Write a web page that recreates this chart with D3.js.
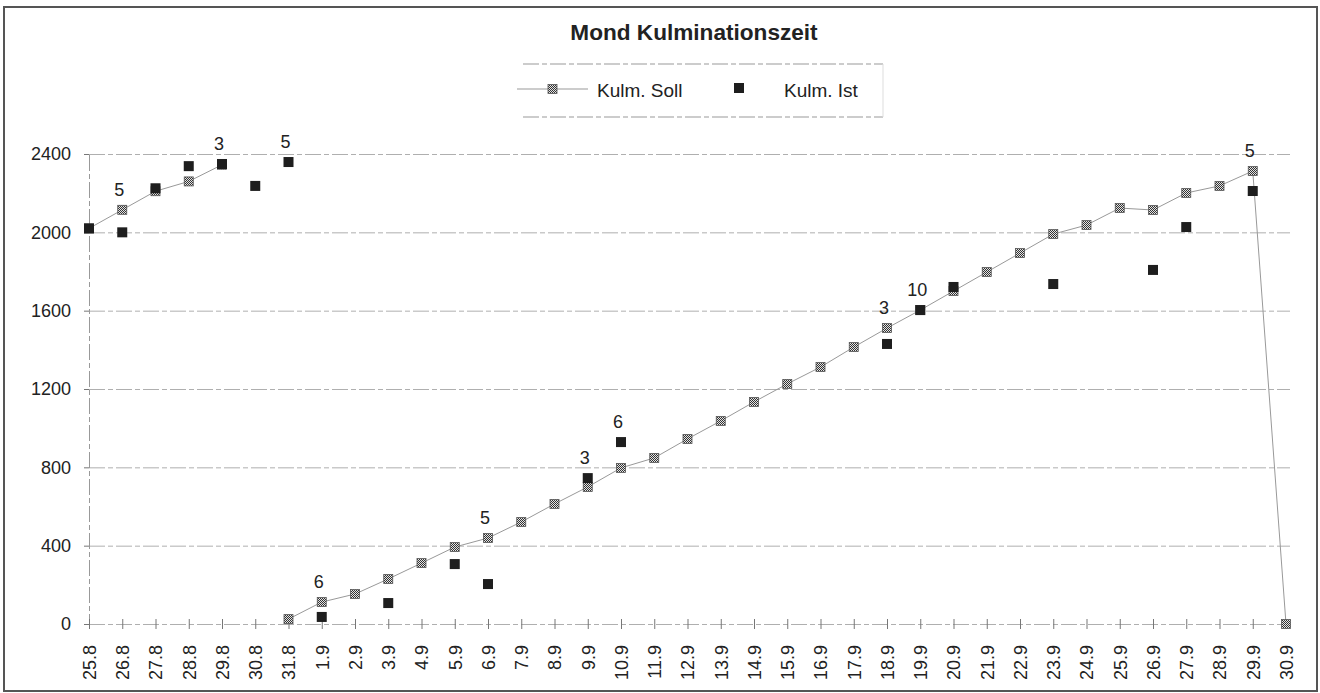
<!DOCTYPE html>
<html>
<head>
<meta charset="utf-8">
<script src="https://cdn.jsdelivr.net/npm/d3@7"></script>
<style>
    body { margin: 0; background: #fff; }
    svg { font-family: "Liberation Sans", Arial, sans-serif; }
    .grid line { stroke: #9a9a9a; stroke-width: 0.8; stroke-dasharray: 16,3,5,3; }
    .tick text { fill: #222; }
</style>
</head>
<body>
<div id="chart"></div>
<script>
const categories = ["25.8", "26.8", "27.8", "28.8", "29.8", "30.8", "31.8",
    "1.9", "2.9", "3.9", "4.9", "5.9", "6.9", "7.9", "8.9", "9.9", "10.9",
    "11.9", "12.9", "13.9", "14.9", "15.9", "16.9", "17.9", "18.9", "19.9", "20.9",
    "21.9", "22.9", "23.9", "24.9", "25.9", "26.9", "27.9", "28.9", "29.9", "30.9"];

// Kulm. Soll (line with hatched markers)
const soll = [2020, 2115, 2210, 2260, 2345, null, 25,
    112, 153, 230, 311, 393, 439, 521, 613, 700, 797,
    848, 945, 1037, 1134, 1226, 1312, 1414, 1511, 1603, 1700,
    1797, 1894, 1991, 2037, 2124, 2114, 2201, 2237, 2313, 0];

// Kulm. Ist (black squares only)
const ist = [2020, 2000, 2225, 2338, 2349, 2237, 2359,
    36, null, 107, null, 306, 204, null, null, 745, 929,
    null, null, null, null, null, null, null, 1430, 1603, 1721,
    null, null, 1736, null, null, 1808, 2027, null, 2211, null];

// small numbers written over some days
const notes = [null, "5", null, null, "3", null, "5",
    "6", null, null, null, null, "5", null, null, "3", "6",
    null, null, null, null, null, null, null, "3", "10", null,
    null, null, null, null, null, null, null, null, "5", null];

const yTicks = [0, 400, 800, 1200, 1600, 2000, 2400];

const W = 1320, H = 693;
const svg = d3.select('#chart').append('svg')
    .attr('width', W)
    .attr('height', H);

const defs = svg.append('defs');
const pat = defs.append('pattern')
    .attr('id', 'checker')
    .attr('width', 2).attr('height', 2)
    .attr('patternUnits', 'userSpaceOnUse');
pat.append('rect').attr('width', 2).attr('height', 2).attr('fill', '#e4e4e4');
pat.append('rect').attr('width', 1).attr('height', 1).attr('fill', '#333');
pat.append('rect').attr('x', 1).attr('y', 1).attr('width', 1).attr('height', 1).attr('fill', '#333');

// outer frame
svg.append('rect')
    .attr('x', 4).attr('y', 7)
    .attr('width', 1313).attr('height', 684)
    .attr('fill', 'none')
    .attr('stroke', '#555')
    .attr('stroke-width', 2);

const x = d3.scalePoint().domain(categories).range([89, 1286]);
const y = d3.scaleLinear().domain([0, 2400]).range([624, 154]);

// horizontal grid
svg.append('g')
    .attr('class', 'grid')
    .attr('transform', 'translate(89,0)')
    .call(d3.axisLeft(y).tickValues(yTicks).tickSize(-1201).tickFormat(''))
    .call(g => g.select('.domain').remove());

// y axis
const yAxis = svg.append('g')
    .attr('transform', 'translate(89,0)')
    .call(d3.axisLeft(y).tickValues(yTicks).tickSize(5).tickPadding(13).tickFormat(d3.format('d')));
yAxis.select('.domain').attr('stroke', '#999').attr('stroke-dasharray', '16,3,5,3');
yAxis.selectAll('.tick line').attr('stroke', '#777');
yAxis.selectAll('.tick text').attr('font-size', 18);

// x axis with crossing ticks
const xAxis = svg.append('g')
    .attr('transform', `translate(0,${y(0)})`)
    .call(d3.axisBottom(x).tickSize(5).tickPadding(10));
xAxis.select('.domain').remove();
xAxis.selectAll('.tick line').attr('y1', -5).attr('stroke', '#777');
xAxis.selectAll('.tick text')
    .attr('font-size', 18)
    .attr('transform', 'rotate(-90)')
    .attr('text-anchor', 'end')
    .attr('x', -21)
    .attr('y', 0)
    .attr('dy', '0.35em');

// Soll line
const idx = categories.map((c, i) => i);
const line = d3.line()
    .defined(i => soll[i] !== null)
    .x(i => x(categories[i]))
    .y(i => y(soll[i]));
svg.append('path')
    .datum(idx)
    .attr('fill', 'none')
    .attr('stroke', '#999')
    .attr('stroke-width', 1)
    .attr('d', line);

svg.append('g')
    .selectAll('rect')
    .data(idx.filter(i => soll[i] !== null))
    .enter().append('rect')
    .attr('x', i => x(categories[i]) - 4.5)
    .attr('y', i => y(soll[i]) - 4.5)
    .attr('width', 9).attr('height', 9)
    .attr('fill', 'url(#checker)')
    .attr('stroke', '#555')
    .attr('stroke-width', 0.8);

svg.append('g')
    .selectAll('rect')
    .data(idx.filter(i => ist[i] !== null))
    .enter().append('rect')
    .attr('x', i => x(categories[i]) - 5)
    .attr('y', i => y(ist[i]) - 5)
    .attr('width', 10).attr('height', 10)
    .attr('fill', '#1e1e1e');

// numbers over the points
svg.append('g')
    .selectAll('text')
    .data(idx.filter(i => notes[i] !== null))
    .enter().append('text')
    .attr('x', i => x(categories[i]) - 3)
    .attr('y', i => y(Math.max(soll[i] || 0, ist[i] || 0)) - 14)
    .attr('text-anchor', 'middle')
    .attr('font-size', 18)
    .attr('fill', '#222')
    .text(i => notes[i]);

// title
svg.append('text')
    .attr('x', 694).attr('y', 40)
    .attr('text-anchor', 'middle')
    .attr('font-size', 22.6)
    .attr('font-weight', 'bold')
    .attr('fill', '#222')
    .text('Mond Kulminationszeit');

// legend
const lg = svg.append('g');
lg.selectAll('line.edge')
    .data([64, 117])
    .enter().append('line')
    .attr('class', 'edge')
    .attr('x1', 523).attr('x2', 883)
    .attr('y1', d => d).attr('y2', d => d)
    .attr('stroke', '#999')
    .attr('stroke-dasharray', '16,3,5,3');
lg.append('line')
    .attr('x1', 883).attr('x2', 883)
    .attr('y1', 64).attr('y2', 117)
    .attr('stroke', '#ddd');
lg.append('line')
    .attr('x1', 517).attr('x2', 588)
    .attr('y1', 89).attr('y2', 89)
    .attr('stroke', '#999');
lg.append('rect')
    .attr('x', 548).attr('y', 84.5)
    .attr('width', 9).attr('height', 9)
    .attr('fill', 'url(#checker)')
    .attr('stroke', '#555').attr('stroke-width', 0.8);
lg.append('text')
    .attr('x', 597).attr('y', 97)
    .attr('font-size', 19).attr('fill', '#222')
    .text('Kulm. Soll');
lg.append('rect')
    .attr('x', 734).attr('y', 83)
    .attr('width', 10).attr('height', 10)
    .attr('fill', '#1e1e1e');
lg.append('text')
    .attr('x', 784).attr('y', 97)
    .attr('font-size', 19).attr('fill', '#222')
    .text('Kulm. Ist');
</script>
</body>
</html>
